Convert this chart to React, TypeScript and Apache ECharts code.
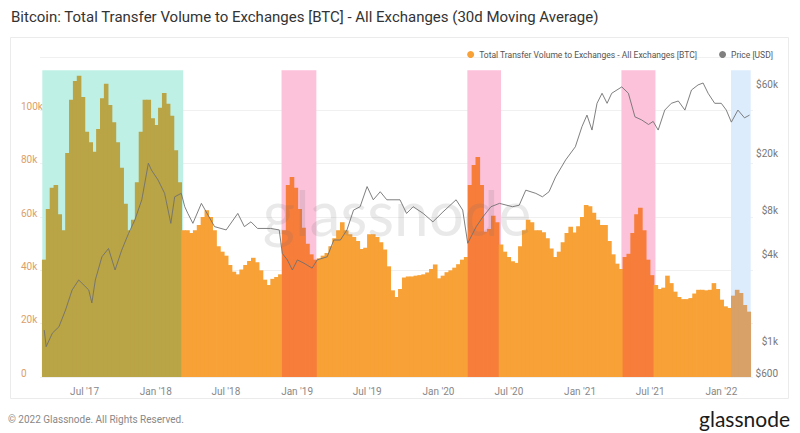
import React, { useEffect, useRef } from 'react';
import * as echarts from 'echarts';

const TITLE = 'Bitcoin: Total Transfer Volume to Exchanges [BTC] - All Exchanges (30d Moving Average)';
const VOLUME_NAME = 'Total Transfer Volume to Exchanges - All Exchanges [BTC]';
const PRICE_NAME = 'Price [USD]';
const FOOTER = '© 2022 Glassnode. All Rights Reserved.';
const LOGO = 'glassnode';

const X_MIN = '2017-03-06';
const X_MAX = '2022-03-10';
const VOLUME_START = '2017-03-11';
const VOLUME_STEP_DAYS = 10;

// 30d MA transfer volume to exchanges [BTC], one value every 10 days
const VOLUME = [
  44000, 63000, 71000, 72000, 61000, 55000, 84000, 104000, 111000, 113000,
  105000, 92000, 88000, 84500, 93000, 104500, 110000, 102000, 95500, 88000,
  78500, 65000, 55000, 59000, 73000, 92000, 104000, 104000, 97000, 94500,
  101000, 106500, 102500, 98000, 85000, 73000, 55000, 55000, 54000, 55000,
  57000, 60000, 62500, 60000, 55000, 49000, 47000, 45500, 42000, 39500,
  38500, 40300, 42000, 43500, 44700, 43000, 40000, 36500, 34500, 36800,
  37500, 38500, 55000, 72000, 75000, 71000, 63000, 56000, 50000, 46000,
  44000, 44500, 45500, 46500, 49000, 52000, 55000, 58000, 55000, 53500,
  52500, 51000, 48000, 48500, 53500, 53500, 52500, 50500, 47800, 41500,
  32500, 30000, 33000, 37300, 37700, 37700, 38000, 38200, 38500, 39200,
  40500, 42200, 37000, 38000, 39300, 40000, 41000, 42300, 44000, 45000,
  72000, 79500, 82500, 72000, 54500, 55500, 60500, 58000, 49700, 47000,
  45000, 43400, 42800, 49000, 55000, 59000, 58000, 55000, 55000, 54300,
  52000, 48200, 45000, 47000, 50500, 54000, 56300, 54200, 56500, 60000,
  64500, 64000, 61600, 59000, 57000, 57000, 51000, 46000, 42500, 40500,
  45000, 46200, 54000, 61000, 63500, 55000, 44000, 38200, 34500, 33000,
  33500, 38000, 35200, 32000, 30000, 29200, 29200, 29600, 31300, 32700,
  32700, 32500, 32700, 35200, 33000, 29000, 26500, 25900, 30500, 32700,
  31500, 27000, 24500,
];

const PRICE_DATES = [
  '2017-03-11', '2017-03-16', '2017-04-01', '2017-04-18', '2017-05-05', '2017-05-22', '2017-06-08',
  '2017-07-04', '2017-07-12', '2017-07-21', '2017-08-07', '2017-08-24', '2017-09-10', '2017-09-27',
  '2017-10-15', '2017-10-31', '2017-11-18', '2017-12-05', '2017-12-13', '2017-12-30', '2018-01-16',
  '2018-02-01', '2018-02-11', '2018-02-28', '2018-03-09', '2018-03-17', '2018-03-30', '2018-04-21',
  '2018-05-25', '2018-06-24', '2018-07-24', '2018-08-10', '2018-08-27', '2018-09-13', '2018-10-17',
  '2018-11-08', '2018-11-16', '2018-11-29', '2018-12-12', '2018-12-25', '2019-01-11', '2019-02-01',
  '2019-02-14', '2019-03-12', '2019-03-29', '2019-04-15', '2019-05-02', '2019-05-19', '2019-06-05',
  '2019-06-23', '2019-07-09', '2019-07-27', '2019-08-13', '2019-08-21', '2019-09-16', '2019-10-03',
  '2019-10-20', '2019-11-15', '2019-12-10', '2020-01-05', '2020-02-08', '2020-02-25', '2020-03-09',
  '2020-03-31', '2020-04-17', '2020-05-08', '2020-05-30', '2020-07-03', '2020-07-20', '2020-08-06',
  '2020-09-01', '2020-09-18', '2020-10-05', '2020-10-22', '2020-11-17', '2020-12-12', '2020-12-29',
  '2021-01-11', '2021-01-24', '2021-02-06', '2021-02-19', '2021-03-04', '2021-03-16', '2021-04-11',
  '2021-04-28', '2021-05-15', '2021-06-01', '2021-06-19', '2021-07-01', '2021-07-14', '2021-07-31',
  '2021-08-17', '2021-09-04', '2021-09-21', '2021-10-08', '2021-10-25', '2021-11-07', '2021-11-20',
  '2021-12-07', '2021-12-24', '2022-01-06', '2022-01-19', '2022-02-05', '2022-02-22', '2022-03-07',
];
const PRICE_VALUES = [
  1270, 974, 1210, 1340, 1750, 2410, 2830,
  2410, 1960, 2830, 4100, 4680, 3320, 4550,
  5970, 7380, 10200, 18300, 16400, 14000, 11300,
  7000, 10700, 11300, 9130, 8200, 7000, 9630,
  6640, 6300, 8200, 6640, 7170, 6450, 6450,
  6300, 4330, 3900, 3320, 3900, 3700, 3420,
  3900, 4100, 5360, 5360, 6300, 8650, 9130,
  12600, 10200, 11600, 10200, 10200, 10200, 8200,
  9130, 8200, 7170, 8400, 10200, 8650, 5090,
  6640, 7750, 9130, 9630, 9130, 9350, 11900,
  11300, 10700, 11600, 14700, 19300, 23800, 32800,
  39500, 31100, 47700, 56000, 47700, 56000, 62000,
  56000, 38400, 36600, 34000, 35700, 31100, 42800,
  47700, 49500, 42800, 59000, 64000, 66000, 56000,
  47700, 47700, 42800, 35300, 42800, 37800, 39500,
];

const PRICE_TICKS = [600, 1000, 4000, 8000, 20000, 60000];
const PRICE_MIN = 600;
const PRICE_MAX = 100000;
const VOLUME_MAX = 120000;
const VOLUME_INTERVAL = 20000;
const AREA_TOP = 115000;

const REGIONS = [
  { from: '2017-03-06', to: '2018-03-05', area: '#bff0e6', bar: '#b9a446' },
  { from: '2018-11-14', to: '2019-02-12', area: '#fcc2da', bar: '#f77d3a' },
  { from: '2020-03-08', to: '2020-06-03', area: '#fcc2da', bar: '#f77d3a' },
  { from: '2021-04-10', to: '2021-07-07', area: '#fcc2da', bar: '#f77d3a' },
  { from: '2022-01-18', to: '2022-03-10', area: '#dcecfd', bar: '#d8a168' },
];

const ORANGE = '#f7a136';
const GREY = '#808080';
const MONTHS = ['Jan', 'Feb', 'Mar', 'Apr', 'May', 'Jun', 'Jul', 'Aug', 'Sep', 'Oct', 'Nov', 'Dec'];
const DAY = 86400000;

function buildOption() {
  const t0 = Date.parse(VOLUME_START);
  const regionOf = (t: number) =>
    REGIONS.find((r) => t >= Date.parse(r.from) && t < Date.parse(r.to));
  const volumeData = VOLUME.map((v, i) => {
    const t = t0 + i * VOLUME_STEP_DAYS * DAY;
    const r = regionOf(t);
    return r ? { value: [t, v], itemStyle: { color: r.bar } } : { value: [t, v] };
  });
  const priceData = PRICE_DATES.map((d, i) => [Date.parse(d), Math.log10(PRICE_VALUES[i])]);
  const fmtPrice = (v: number) => {
    const p = Math.round(Math.pow(10, v));
    return p >= 1000 ? '$' + Math.round(p / 1000) + 'k' : '$' + p;
  };

  return {
    animation: false,
    textStyle: { fontFamily: 'Roboto, "Noto Sans", sans-serif' },
    title: {
      text: TITLE,
      left: 6,
      top: 4,
      textStyle: { fontSize: 15, fontWeight: 'normal', color: '#333' },
    },
    legend: {
      right: 22,
      top: 45,
      icon: 'circle',
      itemWidth: 7,
      itemHeight: 7,
      itemGap: 22,
      textStyle: { fontSize: 8.5, color: '#555' },
      data: [VOLUME_NAME, PRICE_NAME],
    },
    grid: { left: 40, right: 47, top: 57, bottom: 56 },
    xAxis: {
      type: 'time',
      min: Date.parse(X_MIN),
      max: Date.parse(X_MAX),
      splitNumber: 10,
      minInterval: 180 * DAY,
      maxInterval: 186 * DAY,
      axisLine: { show: false },
      axisTick: { show: false },
      splitLine: { show: false },
      minorTick: { show: false },
      axisLabel: {
        color: '#888',
        fontSize: 10,
        margin: 9,
        padding: [0, 6, 0, 0],
        hideOverlap: false,
        formatter: (v: number) => {
          const d = new Date(v);
          return MONTHS[d.getUTCMonth()] + " '" + String(d.getUTCFullYear()).slice(2);
        },
      },
    },
    yAxis: [
      {
        type: 'value',
        min: 0,
        max: VOLUME_MAX,
        interval: VOLUME_INTERVAL,
        axisLine: { show: false },
        axisTick: { show: false },
        splitLine: { lineStyle: { color: '#f0f0f0' } },
        axisLabel: {
          color: '#dba06a',
          fontSize: 10,
          align: 'left',
          verticalAlign: 'bottom',
          lineHeight: 8,
          margin: 19,
          formatter: (v: number) => (v === 0 ? '0' : v >= VOLUME_MAX ? '' : v / 1000 + 'k'),
        },
      },
      {
        type: 'value',
        position: 'right',
        min: Math.log10(PRICE_MIN),
        max: Math.log10(PRICE_MAX),
        axisLine: { show: false },
        axisTick: { show: false },
        splitLine: { show: false },
        axisLabel: {
          customValues: PRICE_TICKS.map((p) => Math.log10(p)),
          color: '#777',
          fontSize: 10,
          align: 'right',
          verticalAlign: 'bottom',
          lineHeight: 8,
          margin: 25,
          formatter: fmtPrice,
        },
      },
    ],
    series: [
      {
        name: VOLUME_NAME,
        type: 'bar',
        yAxisIndex: 0,
        barWidth: 4.6,
        itemStyle: { color: ORANGE },
        data: volumeData,
        markArea: {
          silent: true,
          data: REGIONS.map((r) => [
            { xAxis: Date.parse(r.from), yAxis: 0, itemStyle: { color: r.area } },
            { xAxis: Date.parse(r.to), yAxis: AREA_TOP },
          ]),
        },
      },
      {
        name: PRICE_NAME,
        type: 'line',
        yAxisIndex: 1,
        showSymbol: false,
        itemStyle: { color: GREY },
        lineStyle: { color: '#707070', width: 0.9 },
        z: 5,
        data: priceData,
      },
    ],
    graphic: [
      {
        type: 'rect',
        z: -10,
        shape: { x: 10.5, y: 37.5, width: 778, height: 361 },
        style: { fill: 'none', stroke: '#ebebeb', lineWidth: 1 },
      },
      {
        type: 'text',
        z: 100,
        x: 397,
        y: 212,
        style: {
          text: LOGO,
          fontSize: 62,
          fontFamily: 'Lato, Roboto, sans-serif',
          fill: 'rgba(120,120,120,0.16)',
          align: 'center',
          verticalAlign: 'middle',
        },
      },
      {
        type: 'text',
        x: 8,
        y: 419,
        style: {
          text: FOOTER,
          fontSize: 10,
          fill: '#888',
          verticalAlign: 'middle',
          fontFamily: 'Roboto, sans-serif',
        },
      },
      {
        type: 'text',
        x: 790,
        y: 418,
        style: {
          text: LOGO,
          fontSize: 21,
          fill: '#1b1b1b',
          align: 'right',
          verticalAlign: 'middle',
          fontFamily: 'Lato, Roboto, sans-serif',
        },
      },
    ],
  };
}

export default function App() {
  const ref = useRef<HTMLDivElement>(null);
  useEffect(() => {
    if (!ref.current) return;
    const chart = echarts.init(ref.current, null, { renderer: 'svg' });
    chart.setOption(buildOption() as any);
    return () => chart.dispose();
  }, []);
  return (
    <div
      ref={ref}
      style={{ position: 'absolute', left: 0, top: 0, width: 800, height: 433, background: '#fff' }}
    />
  );
}
